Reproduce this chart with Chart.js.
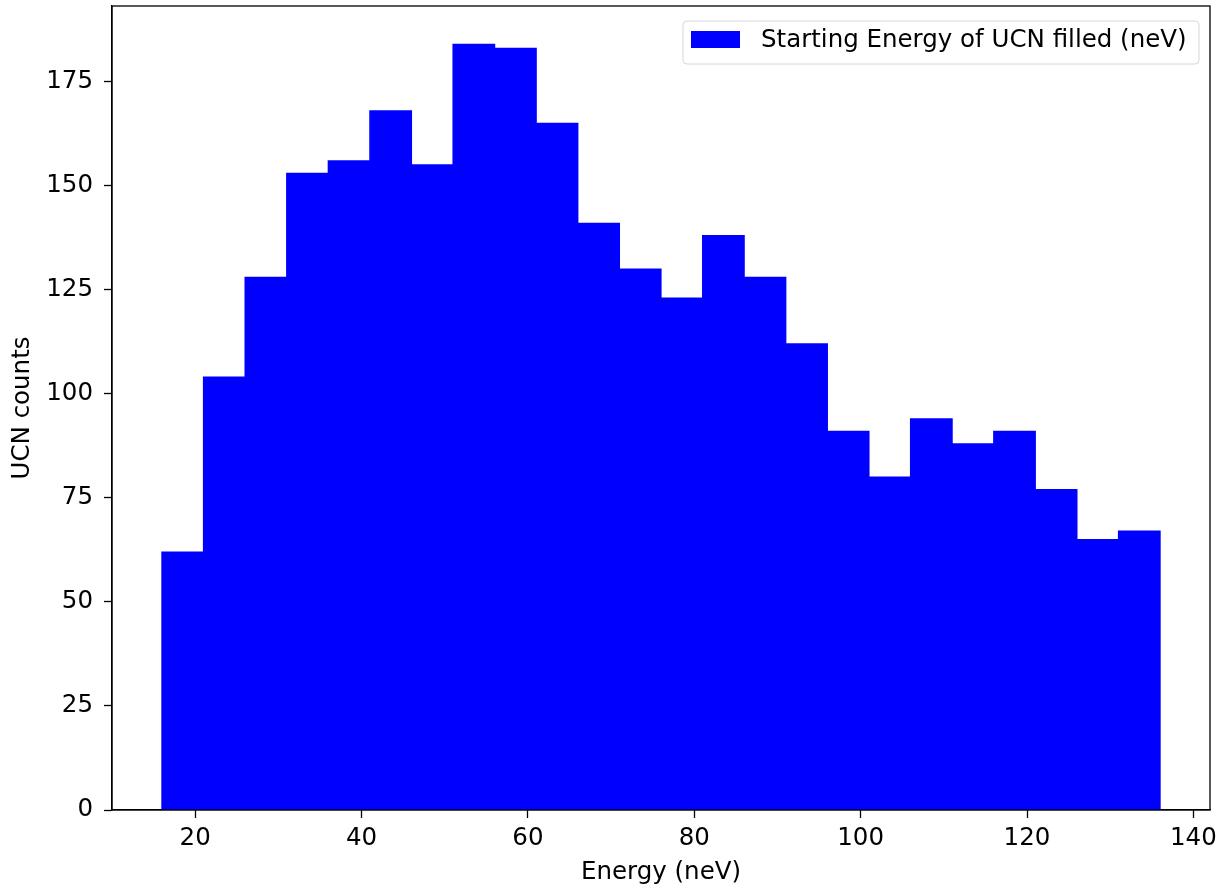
<!DOCTYPE html>
<html>
<head>
<meta charset="utf-8">
<script src="https://cdn.jsdelivr.net/npm/chart.js@4/dist/chart.umd.min.js"></script>
<style>
  html, body { margin: 0; padding: 0; background: #fff; }
  #wrap { width: 1219px; height: 889px; }
</style>
</head>
<body>
<div id="wrap"><canvas id="chart1"></canvas></div>
<script>
// histogram bin edges (neV) and counts per bin
var binEdges = [16, 21, 26, 31, 36, 41, 46, 51, 56, 61, 66, 71, 76, 81, 86, 91, 96, 101, 106, 111, 116, 121, 126, 131, 136];
var counts = [62, 104, 128, 153, 156, 168, 155, 184, 183, 165, 141, 130, 123, 138, 128, 112, 91, 80, 94, 88, 91, 77, 65, 67];
var yTicks = [0, 25, 50, 75, 100, 125, 150, 175];
var xTicks = [20, 40, 60, 80, 100, 120, 140];

var seriesLabel = 'Starting Energy of UCN filled (neV)';
var FONT = 'DejaVu Sans';
var FSIZE = 24.5;

// 바 데이터: 각 구간 중심에 막대
var points = [];
for (var i = 0; i < counts.length; i++) {
    points.push({ x: (binEdges[i] + binEdges[i + 1]) / 2, y: counts[i] });
}

// 위/오른쪽 테두리 + 범례 박스
var framePlugin = {
    id: 'frame',
    afterDatasetsDraw: function(chart) {
        var ctx = chart.ctx;
        var a = chart.chartArea;
        ctx.save();
        ctx.strokeStyle = '#000';
        ctx.lineWidth = 1.3;
        ctx.strokeRect(a.left, a.top, a.right - a.left, a.bottom - a.top);

        // legend
        var ds = chart.data.datasets[0];
        var x0 = 683, y0 = 21, w = 516, h = 43, r = 4;
        ctx.beginPath();
        ctx.moveTo(x0 + r, y0);
        ctx.arcTo(x0 + w, y0, x0 + w, y0 + h, r);
        ctx.arcTo(x0 + w, y0 + h, x0, y0 + h, r);
        ctx.arcTo(x0, y0 + h, x0, y0, r);
        ctx.arcTo(x0, y0, x0 + w, y0, r);
        ctx.closePath();
        ctx.fillStyle = 'rgba(255,255,255,0.8)';
        ctx.fill();
        ctx.strokeStyle = '#d6d6d6';
        ctx.lineWidth = 1;
        ctx.stroke();
        ctx.fillStyle = ds.backgroundColor;
        ctx.fillRect(691, 31, 49, 17);
        ctx.fillStyle = '#000';
        ctx.font = FSIZE + 'px "' + FONT + '"';
        ctx.textBaseline = 'middle';
        ctx.textAlign = 'left';
        ctx.fillText(ds.label, 761, 41);
        ctx.restore();
    }
};

var ctx = document.getElementById('chart1');
var chart1 = new Chart(ctx, {
    type: 'bar',
    data: {
        datasets: [{
            label: seriesLabel,
            data: points,
            backgroundColor: '#0000ff',
            borderWidth: 0,
            inflateAmount: 0.6,
            barPercentage: 1,
            categoryPercentage: 1
        }]
    },
    options: {
        responsive: true,
        maintainAspectRatio: false,
        animation: false,
        devicePixelRatio: 1,
        layout: { padding: { top: 6, right: 9, left: 0, bottom: 0 } },
        plugins: {
            legend: { display: false },
            tooltip: { enabled: false }
        },
        scales: {
            x: {
                type: 'linear',
                min: 10,
                max: 142,
                offset: false,
                afterFit: function(s) { s.height = 79; s.paddingLeft = 0; s.paddingRight = 0; },
                afterBuildTicks: function(s) { s.ticks = xTicks.map(function(v) { return { value: v }; }); },
                ticks: { stepSize: 20, includeBounds: false, color: '#000', padding: 6, font: { family: FONT, size: FSIZE } },
                grid: { display: true, offset: false, drawOnChartArea: false, drawTicks: true, tickLength: 8, tickColor: '#000', tickWidth: 1.3 },
                border: { display: true, color: '#000', width: 1.3 },
                title: { display: true, text: 'Energy (neV)', color: '#000', padding: { top: 4, bottom: 2 }, font: { family: FONT, size: FSIZE } }
            },
            y: {
                min: 0,
                max: 193.2,
                afterFit: function(s) { s.width = 112; s.paddingTop = 0; s.paddingBottom = 0; },
                afterBuildTicks: function(s) { s.ticks = yTicks.map(function(v) { return { value: v }; }); },
                ticks: { stepSize: 25, includeBounds: false, color: '#000', padding: 11, font: { family: FONT, size: FSIZE } },
                grid: { display: true, drawOnChartArea: false, drawTicks: true, tickLength: 8, tickColor: '#000', tickWidth: 1.3 },
                border: { display: true, color: '#000', width: 1.3 },
                title: { display: true, text: 'UCN counts', color: '#000', padding: { top: 8, bottom: 4 }, font: { family: FONT, size: FSIZE } }
            }
        }
    },
    plugins: [framePlugin]
});
</script>
</body>
</html>
